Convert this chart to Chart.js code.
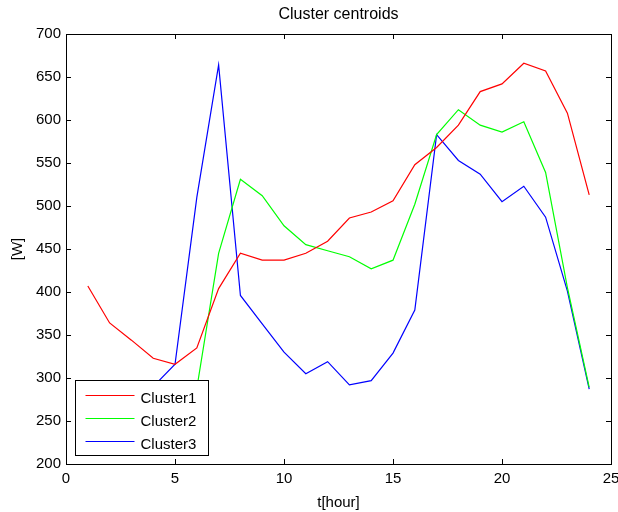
<!DOCTYPE html>
<html>
<head>
<meta charset="utf-8">
<title>Cluster centroids</title>
<script src="https://cdn.jsdelivr.net/npm/chart.js@4.4.1/dist/chart.umd.min.js"></script>
<style>
    html, body { margin: 0; padding: 0; background: #fff; }
    #wrap { width: 618px; height: 512px; }
</style>
</head>
<body>
<div id="wrap"><canvas id="centroidChart"></canvas></div>
<script>
// hours 1..24
const hours = [1, 2, 3, 4, 5, 6, 7, 8, 9, 10, 11, 12, 13, 14, 15, 16, 17, 18, 19, 20, 21, 22, 23, 24];

// centroid values in W (first hours of cluster 2 and 3 sit behind the legend box)
const cluster1 = [407, 364, 344, 323, 316, 335, 404, 445, 437, 437, 445, 459, 486, 493, 506, 548, 568, 594, 633, 642, 666, 657, 608, 513];
const cluster2 = [280, 256, 243, 238, 246, 288, 445, 531, 512, 477, 455, 448, 441, 427, 437, 502, 583, 612, 594, 586, 598, 539, 405, 289];
const cluster3 = [268, 255, 262, 290, 316, 510, 664, 396, 363, 330, 305, 319, 292, 297, 329, 379, 583, 553, 537, 505, 523, 487, 401, 287];

const seriesNames = ["Cluster1", "Cluster2", "Cluster3"];
const seriesColors = ["#ff0000", "#00ff00", "#0000ff"];

const xTicks = [0, 5, 10, 15, 20, 25];
const yTicks = [200, 250, 300, 350, 400, 450, 500, 550, 600, 650, 700];

const chartTitle = "Cluster centroids";
const FONT = "Arial, 'Liberation Sans', sans-serif";

function toPoints(values) {
    return hours.map((h, i) => ({ x: h, y: values[i] }));
}

// matlab style box with inward ticks on all four sides, title centred over the axes
const boxTicks = {
    id: "boxTicks",
    afterDraw(chart) {
        const { ctx, chartArea: a, scales } = chart;
        const len = 5;
        ctx.save();
        ctx.strokeStyle = "#000";
        ctx.lineWidth = 1;
        ctx.strokeRect(Math.round(a.left) + 0.5, Math.round(a.top) + 0.5,
            Math.round(a.right - a.left), Math.round(a.bottom - a.top));
        ctx.beginPath();
        xTicks.forEach(v => {
            const px = Math.round(scales.x.getPixelForValue(v)) + 0.5;
            ctx.moveTo(px, a.bottom); ctx.lineTo(px, a.bottom - len);
            ctx.moveTo(px, a.top); ctx.lineTo(px, a.top + len);
        });
        yTicks.forEach(v => {
            const py = Math.round(scales.y.getPixelForValue(v)) + 0.5;
            ctx.moveTo(a.left, py); ctx.lineTo(a.left + len, py);
            ctx.moveTo(a.right, py); ctx.lineTo(a.right - len, py);
        });
        ctx.stroke();

        ctx.fillStyle = "#000";
        ctx.font = "16px " + FONT;
        ctx.textAlign = "center";
        ctx.textBaseline = "middle";
        ctx.fillText(chartTitle, (a.left + a.right) / 2, 15);
        ctx.restore();
    }
};

// legend box in the lower left corner of the axes
const boxLegend = {
    id: "boxLegend",
    afterDatasetsDraw(chart) {
        const { ctx, chartArea: a } = chart;
        const w = 133, h = 75;
        const x0 = Math.round(a.left) + 9.5;
        const y0 = Math.round(a.bottom) - 8.5 - h;
        ctx.save();
        ctx.fillStyle = "#fff";
        ctx.fillRect(x0, y0, w, h);
        ctx.strokeStyle = "#000";
        ctx.lineWidth = 1;
        ctx.strokeRect(x0, y0, w, h);
        ctx.font = "15px " + FONT;
        ctx.textBaseline = "middle";
        const rows = [14, 37, 60];
        seriesNames.forEach((name, i) => {
            const y = Math.round(y0 + rows[i]) + 0.5;
            ctx.strokeStyle = seriesColors[i];
            ctx.beginPath();
            ctx.moveTo(x0 + 10, y);
            ctx.lineTo(x0 + 59, y);
            ctx.stroke();
            ctx.fillStyle = "#000";
            ctx.fillText(name, x0 + 65, y + 3);
        });
        ctx.restore();
    }
};

new Chart(document.getElementById("centroidChart"), {
    type: "line",
    data: {
        datasets: [cluster1, cluster2, cluster3].map((vals, i) => ({
            label: seriesNames[i],
            data: toPoints(vals),
            borderColor: seriesColors[i],
            borderWidth: 1.2,
            pointRadius: 0,
            tension: 0,
            fill: false
        }))
    },
    options: {
        responsive: true,
        maintainAspectRatio: false,
        animation: false,
        devicePixelRatio: 1,
        layout: { autoPadding: false, padding: { left: 9, right: 7, top: 34, bottom: 0 } },
        plugins: {
            legend: { display: false },
            tooltip: { enabled: false },
            title: { display: false }
        },
        scales: {
            x: {
                type: "linear",
                min: 0,
                max: 25,
                afterBuildTicks: s => { s.ticks = xTicks.map(v => ({ value: v })); },
                // let the last label run off the right edge, as in the original figure
                afterFit: s => { s.paddingRight = 0; },
                grid: { display: false, drawTicks: false },
                border: { display: false },
                ticks: { color: "#000", font: { family: FONT, size: 15 }, padding: 6, maxRotation: 0 },
                title: {
                    display: true, text: "t[hour]", color: "#000",
                    font: { family: FONT, size: 15 }, padding: { top: 0, bottom: 0 }
                }
            },
            y: {
                type: "linear",
                min: 200,
                max: 700,
                afterBuildTicks: s => { s.ticks = yTicks.map(v => ({ value: v })); },
                grid: { display: false, drawTicks: false },
                border: { display: false },
                ticks: { color: "#000", font: { family: FONT, size: 15 }, padding: 5 },
                title: {
                    display: true, text: "[W]", color: "#000",
                    font: { family: FONT, size: 15 }, padding: { top: 0, bottom: 4 }
                }
            }
        }
    },
    plugins: [boxLegend, boxTicks]
});
</script>
</body>
</html>
